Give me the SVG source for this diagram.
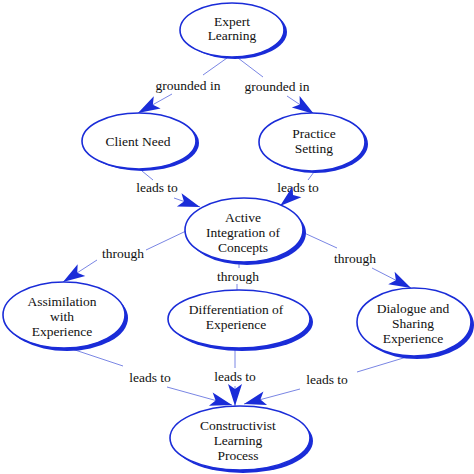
<svg xmlns="http://www.w3.org/2000/svg" width="474" height="474" viewBox="0 0 474 474">
<style>
.sh{fill:#1a2cd8;stroke:none}
.nd{fill:#ffffff;stroke:#1a2cd8;stroke-width:1.6}
.t{font-family:'Liberation Serif','Times New Roman','DejaVu Serif',serif;font-size:13.5px;fill:#111;text-anchor:middle}
.ln{stroke:#7a86e4;stroke-width:1;fill:none}
.ah{fill:#1a2cd8;stroke:none}
</style>
<defs>
<marker id="arr" markerUnits="userSpaceOnUse" markerWidth="26" markerHeight="16" viewBox="-24 -8 26 16" refX="0" refY="0" orient="auto">
<path class="ah" d="M0,0 L-22,-7 L-17,0 L-22,7 Z"/>
</marker>
</defs>
<rect width="474" height="474" fill="#ffffff"/>
<g id="connectors" font-family="Liberation Serif, Times New Roman, serif">
<line class="ln" x1="227" y1="58" x2="203" y2="75"/>
<text class="t" x="188" y="90">grounded in</text>
<line class="ln" x1="172" y1="94" x2="138" y2="113" marker-end="url(#arr)"/>
<line class="ln" x1="238" y1="58" x2="263" y2="77"/>
<text class="t" x="277" y="91">grounded in</text>
<line class="ln" x1="287" y1="96" x2="314" y2="114" marker-end="url(#arr)"/>
<line class="ln" x1="142" y1="171" x2="153" y2="180"/>
<text class="t" x="157" y="192">leads to</text>
<line class="ln" x1="174" y1="198" x2="200" y2="207" marker-end="url(#arr)"/>
<line class="ln" x1="314" y1="172" x2="308" y2="180"/>
<text class="t" x="298" y="192">leads to</text>
<line class="ln" x1="292" y1="196" x2="280" y2="206" marker-end="url(#arr)"/>
<line class="ln" x1="186" y1="231" x2="146" y2="250"/>
<text class="t" x="123" y="258">through</text>
<line class="ln" x1="97" y1="260" x2="63" y2="282" marker-end="url(#arr)"/>
<line class="ln" x1="239" y1="263" x2="239" y2="268"/>
<text class="t" x="238" y="281">through</text>
<line class="ln" x1="237" y1="284" x2="237" y2="290"/>
<line class="ln" x1="302" y1="232" x2="337" y2="248"/>
<text class="t" x="355" y="263">through</text>
<line class="ln" x1="372" y1="268" x2="411" y2="288" marker-end="url(#arr)"/>
<line class="ln" x1="66" y1="347" x2="123" y2="366"/>
<text class="t" x="150" y="382">leads to</text>
<line class="ln" x1="167" y1="387" x2="232" y2="405" marker-end="url(#arr)"/>
<line class="ln" x1="235" y1="348" x2="235" y2="368"/>
<text class="t" x="235" y="381">leads to</text>
<line class="ln" x1="235" y1="386" x2="235" y2="406" marker-end="url(#arr)"/>
<line class="ln" x1="410" y1="356" x2="357" y2="372"/>
<text class="t" x="327" y="384">leads to</text>
<line class="ln" x1="300" y1="389" x2="244" y2="404" marker-end="url(#arr)"/>
</g>
<g id="expert">
<ellipse class="sh" cx="235" cy="32" rx="52" ry="27"/>
<ellipse class="nd" cx="232" cy="30" rx="52" ry="27"/>
<text class="t" x="232" y="26">Expert</text>
<text class="t" x="232" y="40">Learning</text>
</g>
<g id="client">
<ellipse class="sh" cx="142" cy="143" rx="57" ry="28"/>
<ellipse class="nd" cx="139" cy="141" rx="57" ry="28"/>
<text class="t" x="138" y="146">Client Need</text>
</g>
<g id="practice">
<ellipse class="sh" cx="315" cy="144" rx="53" ry="29"/>
<ellipse class="nd" cx="312" cy="142" rx="53" ry="29"/>
<text class="t" x="314" y="138">Practice</text>
<text class="t" x="314" y="153">Setting</text>
</g>
<g id="active">
<ellipse class="sh" cx="247" cy="233" rx="59" ry="32"/>
<ellipse class="nd" cx="244" cy="230" rx="59" ry="32"/>
<text class="t" x="243" y="222">Active</text>
<text class="t" x="243" y="237">Integration of</text>
<text class="t" x="243" y="252">Concepts</text>
</g>
<g id="assimilation">
<ellipse class="sh" cx="67" cy="318" rx="61" ry="33"/>
<ellipse class="nd" cx="64" cy="315" rx="61" ry="33"/>
<text class="t" x="62" y="306">Assimilation</text>
<text class="t" x="62" y="321">with</text>
<text class="t" x="62" y="336">Experience</text>
</g>
<g id="differentiation">
<ellipse class="sh" cx="242" cy="322" rx="71" ry="29"/>
<ellipse class="nd" cx="239" cy="319" rx="71" ry="29"/>
<text class="t" x="236" y="314">Differentiation of</text>
<text class="t" x="236" y="329">Experience</text>
</g>
<g id="dialogue">
<ellipse class="sh" cx="417" cy="325" rx="57" ry="34"/>
<ellipse class="nd" cx="414" cy="322" rx="57" ry="34"/>
<text class="t" x="413" y="313">Dialogue and</text>
<text class="t" x="413" y="328">Sharing</text>
<text class="t" x="413" y="343">Experience</text>
</g>
<g id="constructivist">
<ellipse class="sh" cx="243" cy="441" rx="70" ry="32"/>
<ellipse class="nd" cx="240" cy="438" rx="70" ry="32"/>
<text class="t" x="238" y="430">Constructivist</text>
<text class="t" x="238" y="445">Learning</text>
<text class="t" x="238" y="460">Process</text>
</g>
</svg>
